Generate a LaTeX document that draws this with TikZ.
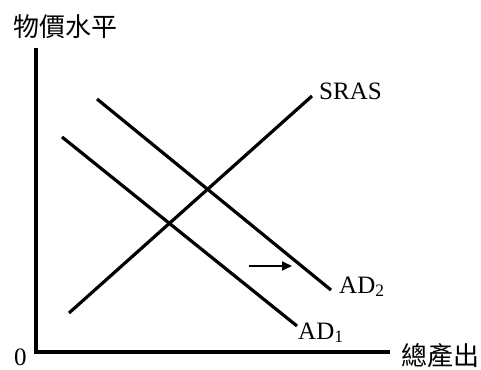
\documentclass[tikz,border=0pt]{standalone}
\usepackage{fontspec}
\setmainfont{Liberation Serif}
\newfontfamily\cjk{Noto Sans CJK TC}
\usetikzlibrary{arrows.meta}
\tikzset{
  curve/.style={line width=3.2pt},
  axis/.style={line width=3.2pt},
  lbl/.style={inner sep=0pt, anchor=base west, font=\fontsize{25}{25}\selectfont},
  cjklbl/.style={inner sep=0pt, font=\fontsize{26}{26}\selectfont\cjk},
  shiftarrow/.style={line width=1.8pt, -{Triangle[length=10pt,width=9pt]}}
}
\begin{document}
\begin{tikzpicture}[x=1pt,y=-1pt]
\useasboundingbox (0,0) rectangle (481,369);
% axes
\coordinate (ytop) at (36,48);
\coordinate (o) at (36,352);
\coordinate (xend) at (390,352);
\draw[axis] (ytop) -- (o) -- (xend);
% curves
\coordinate (s1) at (69,313);
\coordinate (s2) at (312,96);
\coordinate (a1s) at (62,137);
\coordinate (a1e) at (297,326);
\coordinate (a2s) at (97,99);
\coordinate (a2e) at (331,290);
\draw[curve] (s1) -- (s2);
\draw[curve] (a1s) -- (a1e);
\draw[curve] (a2s) -- (a2e);
% shift arrow
\coordinate (ar1) at (249,266);
\coordinate (ar2) at (292,266);
\draw[shiftarrow] (ar1) -- (ar2);
% labels
\node[lbl] (sras) at (319,99) {SRAS};
\node[lbl] (ad2) at (339,293) {AD\textsubscript{2}};
\node[lbl] (ad1) at (298,339) {AD\textsubscript{1}};
\node[lbl] (zero) at (14,365) {0};
\node[cjklbl] (ylab) at (65.5,27) {物價水平};
\node[cjklbl] (xlab) at (440,356) {總產出};
\end{tikzpicture}
\end{document}
